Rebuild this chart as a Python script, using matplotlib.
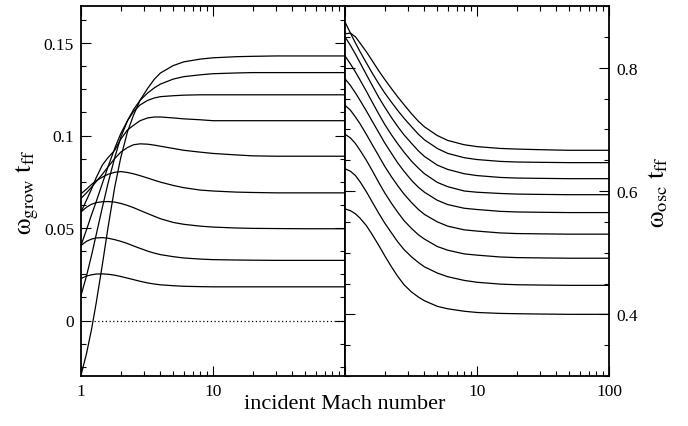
import matplotlib
matplotlib.use("Agg")
import matplotlib.pyplot as plt
from matplotlib.ticker import LogLocator, NullFormatter, FixedLocator, FixedFormatter, MultipleLocator

plt.rcParams['font.family'] = ['Liberation Serif', 'DejaVu Serif']
plt.rcParams['mathtext.fontset'] = 'stix'

# Mach numbers at which the curves were read
mach = [1, 1.1, 1.2, 1.3, 1.45, 1.6, 1.8, 2, 2.25, 2.5, 2.8, 3.2, 3.6, 4, 5, 6, 8, 10, 15, 20, 30, 50, 100]

# growth rates (left panel)
grow_a = [-0.0295, -0.018, -0.005, 0.009, 0.030, 0.050, 0.072, 0.088, 0.102, 0.111, 0.119, 0.1255, 0.1305, 0.1338, 0.1378, 0.1398, 0.1413, 0.142, 0.1426, 0.1428, 0.143, 0.143, 0.143]
grow_b = [0.0135, 0.024, 0.035, 0.046, 0.061, 0.074, 0.088, 0.099, 0.108, 0.114, 0.119, 0.123, 0.1258, 0.1278, 0.1305, 0.1318, 0.1328, 0.1334, 0.1338, 0.134, 0.134, 0.134, 0.134]
grow_c = [0.0406, 0.049, 0.057, 0.064, 0.074, 0.083, 0.093, 0.101, 0.108, 0.113, 0.1165, 0.119, 0.1203, 0.121, 0.1215, 0.1218, 0.122, 0.122, 0.122, 0.122, 0.122, 0.122, 0.122]
grow_d = [0.0587, 0.065, 0.071, 0.077, 0.084, 0.088, 0.092, 0.098, 0.103, 0.1055, 0.108, 0.1095, 0.110, 0.110, 0.1095, 0.109, 0.1085, 0.108, 0.108, 0.108, 0.108, 0.108, 0.108]
grow_e = [0.066, 0.069, 0.072, 0.075, 0.079, 0.083, 0.0875, 0.091, 0.0935, 0.095, 0.0955, 0.0953, 0.0948, 0.0942, 0.093, 0.092, 0.091, 0.0903, 0.0895, 0.089, 0.0888, 0.0888, 0.0888]
grow_f = [0.0685, 0.071, 0.0735, 0.0755, 0.0775, 0.079, 0.0801, 0.0805, 0.080, 0.0793, 0.0783, 0.077, 0.0758, 0.0748, 0.073, 0.0718, 0.0705, 0.070, 0.0694, 0.0692, 0.069, 0.069, 0.069]
grow_g = [0.0587, 0.0612, 0.0628, 0.0637, 0.0642, 0.0643, 0.064, 0.0633, 0.0622, 0.061, 0.0595, 0.0578, 0.0563, 0.055, 0.053, 0.052, 0.051, 0.0505, 0.050, 0.0498, 0.0497, 0.0496, 0.0496]
grow_h = [0.0406, 0.0428, 0.0440, 0.0446, 0.0448, 0.0445, 0.0437, 0.0428, 0.0416, 0.0403, 0.039, 0.0375, 0.0364, 0.0356, 0.0345, 0.0338, 0.0332, 0.0329, 0.0327, 0.0326, 0.0325, 0.0325, 0.0325]
grow_i = [0.0227, 0.0240, 0.0247, 0.0251, 0.0252, 0.0250, 0.0245, 0.0238, 0.0229, 0.0221, 0.0212, 0.0203, 0.0197, 0.0193, 0.0188, 0.0185, 0.0183, 0.0182, 0.0182, 0.0182, 0.0182, 0.0182, 0.0182]
grow_series = [grow_a, grow_b, grow_c, grow_d, grow_e, grow_f, grow_g, grow_h, grow_i]

# oscillation frequencies (right panel)
osc_0 = [0.571, 0.568, 0.563, 0.556, 0.544, 0.530, 0.512, 0.495, 0.477, 0.462, 0.448, 0.436, 0.428, 0.422, 0.413, 0.409, 0.405, 0.403, 0.4015, 0.401, 0.4005, 0.400, 0.400]
osc_1 = [0.636, 0.632, 0.625, 0.615, 0.599, 0.583, 0.564, 0.548, 0.532, 0.518, 0.505, 0.493, 0.484, 0.477, 0.467, 0.461, 0.455, 0.452, 0.449, 0.448, 0.4475, 0.447, 0.447]
osc_2 = [0.692, 0.686, 0.677, 0.666, 0.650, 0.634, 0.614, 0.597, 0.580, 0.566, 0.552, 0.539, 0.529, 0.522, 0.510, 0.504, 0.498, 0.496, 0.493, 0.492, 0.4915, 0.491, 0.491]
osc_3 = [0.739, 0.731, 0.720, 0.709, 0.692, 0.676, 0.657, 0.640, 0.623, 0.609, 0.595, 0.581, 0.570, 0.562, 0.550, 0.543, 0.537, 0.535, 0.532, 0.531, 0.5305, 0.530, 0.530]
osc_4 = [0.782, 0.771, 0.759, 0.747, 0.730, 0.714, 0.695, 0.678, 0.661, 0.646, 0.632, 0.617, 0.606, 0.598, 0.585, 0.578, 0.572, 0.570, 0.567, 0.566, 0.5655, 0.565, 0.565]
osc_5 = [0.819, 0.806, 0.793, 0.780, 0.762, 0.745, 0.725, 0.708, 0.691, 0.677, 0.663, 0.648, 0.637, 0.628, 0.614, 0.607, 0.600, 0.598, 0.596, 0.595, 0.5945, 0.594, 0.594]
osc_6 = [0.850, 0.836, 0.822, 0.808, 0.789, 0.772, 0.752, 0.736, 0.719, 0.705, 0.691, 0.677, 0.665, 0.656, 0.642, 0.635, 0.628, 0.625, 0.622, 0.621, 0.6205, 0.620, 0.620]
osc_7 = [0.874, 0.856, 0.840, 0.826, 0.808, 0.792, 0.774, 0.759, 0.744, 0.731, 0.718, 0.704, 0.692, 0.683, 0.669, 0.661, 0.654, 0.651, 0.648, 0.647, 0.6465, 0.646, 0.646]
osc_8 = [0.855, 0.856, 0.850, 0.840, 0.826, 0.812, 0.795, 0.781, 0.766, 0.753, 0.740, 0.725, 0.713, 0.704, 0.690, 0.682, 0.675, 0.672, 0.669, 0.668, 0.667, 0.666, 0.666]
osc_series = [osc_0, osc_1, osc_2, osc_3, osc_4, osc_5, osc_6, osc_7, osc_8]

zero_line_x = [1.25, 100]
zero_line_y = [0, 0]

left_yticks = [0, 0.05, 0.1, 0.15]
left_ylabels = ["0", "0.05", "0.1", "0.15"]
right_yticks = [0.4, 0.6, 0.8]
right_ylabels = ["0.4", "0.6", "0.8"]
left_xticks = [1, 10, 100]
left_xlabels = ["1", "10", ""]
right_xticks = [1, 10, 100]
right_xlabels = ["", "10", "100"]

fig = plt.figure(figsize=(6.88, 4.27), dpi=100)
axL = fig.add_axes([81/688, 50/427, 264/688, 370/427])
axR = fig.add_axes([345/688, 50/427, 264/688, 370/427])

for s in grow_series:
    axL.plot(mach, s, color='black', lw=0.9)
axL.plot(zero_line_x, zero_line_y, color='black', lw=0.9, linestyle=(0, (1, 2.0)))
for s in osc_series:
    axR.plot(mach, s, color='black', lw=0.9)

for ax in (axL, axR):
    ax.set_xscale('log')
    ax.set_xlim(1, 100)
    ax.xaxis.set_minor_locator(LogLocator(base=10, subs=range(2, 10)))
    ax.xaxis.set_minor_formatter(NullFormatter())
    ax.tick_params(which='both', direction='in', top=True, bottom=True, left=True, right=True,
                   labelsize=12.5, width=0.8, pad=5)
    ax.tick_params(which='major', length=7.5)
    ax.tick_params(which='minor', length=3.8)
    for sp in ax.spines.values():
        sp.set_linewidth(1.3)

axL.set_ylim(-0.03, 0.17)
axL.yaxis.set_major_locator(FixedLocator(left_yticks))
axL.yaxis.set_major_formatter(FixedFormatter(left_ylabels))
axL.yaxis.set_minor_locator(MultipleLocator(0.0125))
axL.xaxis.set_major_locator(FixedLocator(left_xticks))
axL.xaxis.set_major_formatter(FixedFormatter(left_xlabels))
axL.set_ylabel(r'$\mathrm{\omega}_{\mathrm{grow}}\ \mathrm{t}_{\mathrm{ff}}$', fontsize=19, labelpad=2)

axR.set_ylim(0.3, 0.9)
axR.yaxis.set_major_locator(FixedLocator(right_yticks))
axR.yaxis.set_major_formatter(FixedFormatter(right_ylabels))
axR.yaxis.set_minor_locator(MultipleLocator(0.05))
axR.xaxis.set_major_locator(FixedLocator(right_xticks))
axR.xaxis.set_major_formatter(FixedFormatter(right_xlabels))
axR.tick_params(axis='y', which='both', labelleft=False, labelright=True)
axR.yaxis.set_label_position('right')
axR.set_ylabel(r'$\mathrm{\omega}_{\mathrm{osc}}\ \mathrm{t}_{\mathrm{ff}}$', fontsize=19, labelpad=6)

fig.text(345/688, 1 - 405/427, 'incident Mach number', ha='center', va='center', fontsize=16)

fig.savefig('out.png', dpi=100)
